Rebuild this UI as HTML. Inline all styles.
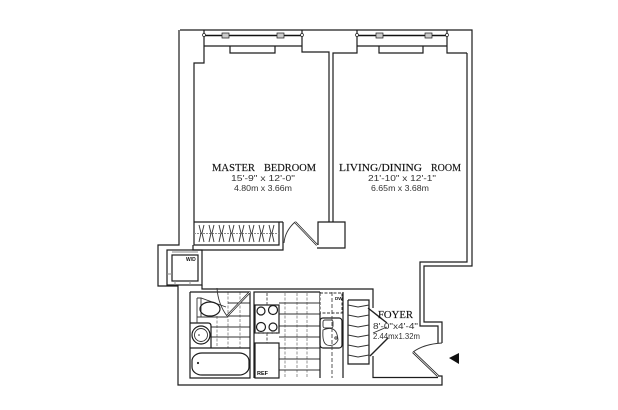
<!DOCTYPE html>
<html><head><meta charset="utf-8"><style>
html,body{margin:0;padding:0;background:#fff;width:618px;height:410px;overflow:hidden}
svg{display:block}
.w{fill:none;stroke:#1c1c1c;stroke-width:1.2}
.t{fill:none;stroke:#8a8a8a;stroke-width:.9}
.g{fill:none;stroke:#333;stroke-width:1}
.d{fill:none;stroke:#333;stroke-width:.9}
.h{font-family:"Liberation Serif",serif;font-size:11px;fill:#111;stroke:#111;stroke-width:.15}
.s{font-family:"Liberation Sans",sans-serif;font-size:8.5px;fill:#333}
</style></head><body>
<svg width="618" height="410" viewBox="0 0 618 410" xmlns="http://www.w3.org/2000/svg">
<rect width="618" height="410" fill="#fff"/>
<!-- outer wall -->
<path class="w" d="M180 30H472V266H424V322H442V343M179 30V245H158V286H178V385H442V376H438"/>
<path class="w" d="M467 53V262H420V326H438V343"/>
<path class="w" d="M202 285V289H373V308"/>
<!-- bedroom -->
<path class="w" d="M194 222V63H204V35M204 46H302V52H329V222M230 46V53H275V46M204 35V30M302 30V46"/>
<!-- living -->
<path class="w" d="M333 222V53H357V30M357 46H447V53H467M379 46V53H423V46M447 30V46"/>
<!-- windows -->
<path d="M204 35.500H302M357 35.500H447" stroke="#111" stroke-width="1.600" fill="none"/>
<path d="M222 33h7v5h-7zM277 33h7v5h-7zM376 33h7v5h-7zM425 33h7v5h-7z" fill="#ccc" stroke="#222" stroke-width=".7"/>
<circle cx="204" cy="35" r="1.500" fill="#fff" stroke="#222" stroke-width=".7"/><circle cx="302" cy="35" r="1.500" fill="#fff" stroke="#222" stroke-width=".7"/><circle cx="357" cy="35" r="1.500" fill="#fff" stroke="#222" stroke-width=".7"/><circle cx="447" cy="35" r="1.500" fill="#fff" stroke="#222" stroke-width=".7"/>
<!-- closet -->
<path class="w" d="M194 222H279V245H194V222M283 222H279M283 222V250H193V245"/>
<path class="t" stroke-dasharray="2 1" d="M194 233.500H279"/>
<path class="d" d="M199 225l2 8l-2 9M204 225l-2 8l2 9M209 225l2 8l-2 9M214 225l-2 8l2 9M219 225l2 8l-2 9M224 225l-2 8l2 9M229 225l2 8l-2 9M234 225l-2 8l2 9M239 225l2 8l-2 9M244 225l-2 8l2 9M249 225l2 8l-2 9M254 225l-2 8l2 9M259 225l2 8l-2 9M264 225l-2 8l2 9M269 225l2 8l-2 9M274 225l-2 8l2 9"/>
<!-- column and bedroom door -->
<path class="w" d="M318 245V222H345V248H317"/>
<path d="M295 222L317 245" stroke="#222" stroke-width="2.200" fill="none"/>
<path d="M295 222L317 245" stroke="#fff" stroke-width=".7" fill="none"/>
<path class="d" d="M284 243Q285 231 295 222"/>
<!-- w/d -->
<rect x="167" y="250" width="35" height="35" class="w"/>
<rect x="172" y="255" width="26" height="26" class="w" stroke-width="1.500"/>
<path class="t" d="M167 274h5M175 281v4M190 281v4M172 252h26"/>
<text x="186" y="261" font-family="Liberation Sans,sans-serif" font-size="5" font-weight="bold" fill="#111">W/D</text>
<!-- bath tile grid -->
<path class="t" stroke-dasharray="3 1.500" d="M217 316V348M228 292V348M240 292V348"/>
<path class="g" d="M228 303H250M227 316H250M211 327H250M211 337H250"/>
<!-- kitchen tile grid -->
<path class="t" stroke-dasharray="3 1.500" d="M285 293V377M297 293V377M307 293V377"/>
<path class="g" d="M279 303H320M279 314H320M279 326H320M279 337H320M279 348H320M279 359H320M279 370H320"/>
<!-- bath -->
<path class="w" d="M190 292H250V378H190V292M254 378V292H320"/>
<path class="w" d="M190 348H250M190 323H208Q211 323 211 326V348"/>
<path class="d" d="M197 298H201L226 307M197 298V323M197 317H228M201 298V317"/>
<ellipse cx="210" cy="309" rx="10" ry="7" fill="#fff" class="w"/>
<circle cx="201" cy="335" r="9" fill="#fff" class="w"/><circle cx="201" cy="335" r="6.500" class="d"/><circle cx="199" cy="335" r=".8" fill="#222"/>
<rect x="192" y="353" width="57" height="22" rx="10" ry="8" fill="#fff" class="w"/>
<circle cx="198" cy="363" r="1.100" fill="#222"/>
<path d="M250 292L227 316" stroke="#222" stroke-width="2.200" fill="none"/>
<path d="M250 292L227 316" stroke="#fff" stroke-width=".7" fill="none"/>
<path class="d" d="M217 288Q218 304 227 316"/>
<!-- kitchen -->
<rect x="255" y="305" width="24" height="28" fill="#fff" class="w"/>
<circle cx="261" cy="311" r="4" class="w"/><circle cx="273" cy="310" r="4.500" class="w"/><circle cx="261" cy="327" r="4.500" class="w"/><circle cx="273" cy="327" r="4" class="w"/>
<rect x="255" y="343" width="24" height="35" fill="#fff" class="w"/>
<text x="257" y="375" font-family="Liberation Sans,sans-serif" font-size="5.500" font-weight="bold" fill="#111">REF</text>
<path d="M267 293V305M267 333V343M255 333H279" stroke="#444" stroke-width=".9" stroke-dasharray="3 1.500"/>
<!-- counter -->
<path class="w" d="M320 292V378M343 292V378"/>
<rect x="320" y="293" width="22" height="20" fill="#fff" stroke="#333" stroke-width="1" stroke-dasharray="3 1.500"/>
<rect x="320" y="318" width="22" height="30" rx="3" fill="#fff" class="w"/>
<rect x="323" y="320" width="10" height="8" rx="2" class="d"/>
<path class="d" d="M323 330Q337 324 338 340Q335 347 327 345Q322 343 323 330Z"/>
<circle cx="336" cy="338" r="1.200" class="d"/>
<path d="M332 292V378" stroke="#444" stroke-width=".9" stroke-dasharray="4 2"/>
<text x="335" y="300" font-family="Liberation Sans,sans-serif" font-size="4.500" font-weight="bold" fill="#111">DW</text>
<path class="w" d="M373 356V377.500H438"/>
<!-- foyer closet -->
<path class="w" d="M348 300H369V364H348V300"/>
<path class="d" d="M348 305L358 307L369 305M348 315L358 317L369 315M348 325L358 327L369 325M348 335L358 337L369 335M348 345L358 347L369 345M348 355L358 357L369 355"/>
<path d="M368 308L387 323M370 356L388 338" stroke="#222" stroke-width="1.400" fill="none"/>
<path class="d" d="M373 333L387 327"/>
<!-- entry door -->
<path d="M413 352L438 376" stroke="#222" stroke-width="2.400" fill="none"/>
<path d="M413 352L438 376" stroke="#fff" stroke-width=".8" fill="none"/>
<path class="d" d="M413 352Q424 344 442 343"/>
<path d="M449 358L459 353V364Z" fill="#111"/>
<!-- labels -->
<text class="h" x="212" y="171" textLength="43" lengthAdjust="spacingAndGlyphs">MASTER</text>
<text class="h" x="264" y="171" textLength="52" lengthAdjust="spacingAndGlyphs">BEDROOM</text>
<text class="s" x="231" y="181" textLength="64" lengthAdjust="spacingAndGlyphs">15'-9" x 12'-0"</text>
<text class="s" x="234" y="191" textLength="58" lengthAdjust="spacingAndGlyphs">4.80m x 3.66m</text>
<text class="h" x="339" y="171" textLength="83" lengthAdjust="spacingAndGlyphs">LIVING/DINING</text>
<text class="h" x="431" y="171" textLength="30" lengthAdjust="spacingAndGlyphs">ROOM</text>
<text class="s" x="368" y="181" textLength="68" lengthAdjust="spacingAndGlyphs">21'-10" x 12'-1"</text>
<text class="s" x="371" y="191" textLength="58" lengthAdjust="spacingAndGlyphs">6.65m x 3.68m</text>
<text class="h" x="378" y="318" textLength="35" lengthAdjust="spacingAndGlyphs">FOYER</text>
<text class="s" x="373" y="329" textLength="45" lengthAdjust="spacingAndGlyphs">8'-0"x4'-4"</text>
<text class="s" x="373" y="339" textLength="47" lengthAdjust="spacingAndGlyphs">2.44mx1.32m</text>
</svg>
</body></html>
